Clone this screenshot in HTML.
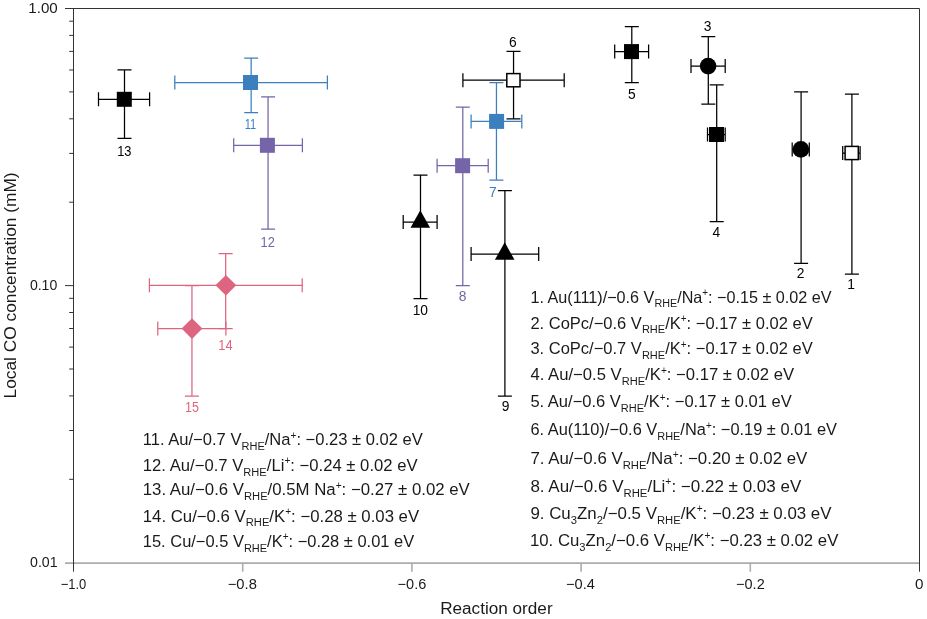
<!DOCTYPE html>
<html><head><meta charset="utf-8"><title>Reaction order</title>
<style>html,body{margin:0;padding:0;background:#fff}svg{display:block;will-change:transform}text{font-family:"Liberation Sans",sans-serif;fill:#1a1a1a}</style></head><body>
<svg xmlns="http://www.w3.org/2000/svg" width="927" height="619" viewBox="0 0 927 619">
<rect width="927" height="619" fill="#fff"/>
<g stroke="#adadad" stroke-width="1.6" fill="none">
<path d="M65 563.1H919.5"/>
<path d="M242.7 562.7V571.7"/>
<path d="M411.9 562.7V571.7"/>
<path d="M581.1 562.7V571.7"/>
<path d="M750.3 562.7V571.7"/>
</g>
<g stroke="#333" stroke-width="1" fill="none">
<path d="M65 8.5H919.5V571.7"/>
<path d="M73.5 8.5V571.7"/>
<path d="M69.2 202.2H73.5"/>
<path d="M69.2 153.4H73.5"/>
<path d="M69.2 118.8H73.5"/>
<path d="M69.2 91.9H73.5"/>
<path d="M69.2 70.0H73.5"/>
<path d="M69.2 51.4H73.5"/>
<path d="M69.2 35.4H73.5"/>
<path d="M69.2 21.2H73.5"/>
<path d="M69.2 479.3H73.5"/>
<path d="M69.2 430.5H73.5"/>
<path d="M69.2 395.9H73.5"/>
<path d="M69.2 369.0H73.5"/>
<path d="M69.2 347.1H73.5"/>
<path d="M69.2 328.5H73.5"/>
<path d="M69.2 312.5H73.5"/>
<path d="M69.2 298.3H73.5"/>
<path d="M65 285.6H73.5"/>
</g>
<text id="T1" transform="translate(28.26 13.1) scale(1.0445 1)" font-size="14.5">1.00</text>
<text id="T2" transform="translate(29.88 290.2) scale(0.9719 1)" font-size="14.5">0.10</text>
<text id="T3" transform="translate(30.00 567.3) scale(0.9786 1)" font-size="14.5">0.01</text>
<text id="X1" transform="translate(60.69 588.7) scale(0.8932 1)" font-size="14.5">−1.0</text>
<text id="X2" transform="translate(227.78 588.7) scale(1.0149 1)" font-size="14.5">−0.8</text>
<text id="X3" transform="translate(397.59 588.7) scale(1.0013 1)" font-size="14.5">−0.6</text>
<text id="X4" transform="translate(565.99 588.7) scale(1.0072 1)" font-size="14.5">−0.4</text>
<text id="X5" transform="translate(736.09 588.7) scale(1.0003 1)" font-size="14.5">−0.2</text>
<text id="X6" transform="translate(915.00 588.7) scale(1.0506 1)" font-size="14.5">0</text>
<text x="496.4" y="613.8" font-size="15.6" text-anchor="middle" textLength="112.4" lengthAdjust="spacingAndGlyphs">Reaction order</text>
<text transform="translate(15.7 285.4) rotate(-90)" font-size="16.3" text-anchor="middle" textLength="226" lengthAdjust="spacingAndGlyphs">Local CO concentration (mM)</text>
<g stroke="#000" stroke-width="1.25" fill="none">
<path d="M842.7 153.0H860.1M842.7 146.0V160.0M860.1 146.0V160.0"/>
<path d="M851.9 94.2V274.0M844.9 94.2H858.9M844.9 274.0H858.9"/>
</g>
<rect x="845.1" y="146.4" width="13.2" height="13.2" fill="#fff" stroke="#000" stroke-width="1.5"/>
<text transform="translate(851.2 289.1) scale(1 1)" font-size="13.8" text-anchor="middle" style="fill:#000">1</text>
<g stroke="#000" stroke-width="1.25" fill="none">
<path d="M792.2 149.4H809.3M792.2 142.4V156.4M809.3 142.4V156.4"/>
<path d="M801.1 91.9V263.4M794.1 91.9H808.1M794.1 263.4H808.1"/>
</g>
<circle cx="800.9" cy="149.4" r="8.3" fill="#000"/>
<text transform="translate(800.6 278.4) scale(1 1)" font-size="13.8" text-anchor="middle" style="fill:#000">2</text>
<g stroke="#000" stroke-width="1.25" fill="none">
<path d="M691.0 66.1H725.2M691.0 59.099999999999994V73.1M725.2 59.099999999999994V73.1"/>
<path d="M708.3 36.6V104.2M701.3 36.6H715.3M701.3 104.2H715.3"/>
</g>
<circle cx="708.1" cy="66.1" r="8.3" fill="#000"/>
<text transform="translate(707.5 30.5) scale(1 1)" font-size="13.8" text-anchor="middle" style="fill:#000">3</text>
<g stroke="#000" stroke-width="1.25" fill="none">
<path d="M707.5 134.5H725.2M707.5 127.5V141.5M725.2 127.5V141.5"/>
<path d="M716.7 84.9V221.7M709.7 84.9H723.7M709.7 221.7H723.7"/>
</g>
<rect x="709.0" y="127.0" width="15" height="15" fill="#000"/>
<text transform="translate(716.3 237.3) scale(1 1)" font-size="13.8" text-anchor="middle" style="fill:#000">4</text>
<g stroke="#000" stroke-width="1.25" fill="none">
<path d="M614.7 51.6H648.6M614.7 44.6V58.6M648.6 44.6V58.6"/>
<path d="M631.8 26.5V82.5M624.8 26.5H638.8M624.8 82.5H638.8"/>
</g>
<rect x="624.0" y="44.1" width="15" height="15" fill="#000"/>
<text transform="translate(631.8 98.5) scale(1 1)" font-size="13.8" text-anchor="middle" style="fill:#000">5</text>
<g stroke="#000" stroke-width="1.25" fill="none">
<path d="M462.9 80.2H564.2M462.9 73.2V87.2M564.2 73.2V87.2"/>
<path d="M513.55 51.4V118.9M506.5 51.4H520.5M506.5 118.9H520.5"/>
</g>
<rect x="506.8" y="73.6" width="13.2" height="13.2" fill="#fff" stroke="#000" stroke-width="1.5"/>
<text transform="translate(512.9 47.2) scale(1 1)" font-size="13.8" text-anchor="middle" style="fill:#000">6</text>
<g stroke="#3b7fbf" stroke-width="1.25" fill="none">
<path d="M471.1 121.4H521.8M471.1 114.4V128.4M521.8 114.4V128.4"/>
<path d="M496.45 82.5V180.1M489.4 82.5H503.4M489.4 180.1H503.4"/>
</g>
<rect x="489.1" y="113.9" width="15" height="15" fill="#3b7fbf"/>
<text transform="translate(492.9 197.0) scale(1 1)" font-size="13.8" text-anchor="middle" style="fill:#3b7fbf">7</text>
<g stroke="#7565a8" stroke-width="1.25" fill="none">
<path d="M437.1 165.7H488.2M437.1 158.7V172.7M488.2 158.7V172.7"/>
<path d="M462.8 107.1V285.6M455.8 107.1H469.8M455.8 285.6H469.8"/>
</g>
<rect x="455.1" y="158.2" width="15" height="15" fill="#7565a8"/>
<text transform="translate(462.6 301.0) scale(1 1)" font-size="13.8" text-anchor="middle" style="fill:#7565a8">8</text>
<g stroke="#000" stroke-width="1.25" fill="none">
<path d="M471.1 254.1H538.7M471.1 247.1V261.1M538.7 247.1V261.1"/>
<path d="M504.9 190.7V396.2M497.9 190.7H511.9M497.9 396.2H511.9"/>
</g>
<path d="M504.7 242.3L514.5 259.8H494.9Z" fill="#000"/>
<text transform="translate(505.5 410.9) scale(1 1)" font-size="13.8" text-anchor="middle" style="fill:#000">9</text>
<g stroke="#000" stroke-width="1.25" fill="none">
<path d="M403.2 222.0H437.1M403.2 215.0V229.0M437.1 215.0V229.0"/>
<path d="M420.5 175.2V298.5M413.5 175.2H427.5M413.5 298.5H427.5"/>
</g>
<path d="M420.3 210.2L430.1 227.7H410.5Z" fill="#000"/>
<text transform="translate(420.3 315.4) scale(1 1)" font-size="13.8" text-anchor="middle" style="fill:#000">10</text>
<g stroke="#3b7fbf" stroke-width="1.25" fill="none">
<path d="M174.8 82.5H327.4M174.8 75.5V89.5M327.4 75.5V89.5"/>
<path d="M251.15 58.0V112.7M244.2 58.0H258.1M244.2 112.7H258.1"/>
</g>
<rect x="243.0" y="75.0" width="15" height="15" fill="#3b7fbf"/>
<text transform="translate(250.5 129.0) scale(0.8 1)" font-size="13.8" text-anchor="middle" style="fill:#3b7fbf">11</text>
<g stroke="#7565a8" stroke-width="1.25" fill="none">
<path d="M233.7 145.3H302.4M233.7 138.3V152.3M302.4 138.3V152.3"/>
<path d="M268.05 96.8V229.2M261.1 96.8H275.1M261.1 229.2H275.1"/>
</g>
<rect x="259.9" y="137.8" width="15" height="15" fill="#7565a8"/>
<text transform="translate(267.7 247.3) scale(0.93 1)" font-size="13.8" text-anchor="middle" style="fill:#7565a8">12</text>
<g stroke="#000" stroke-width="1.25" fill="none">
<path d="M98.5 99.3H149.6M98.5 92.3V106.3M149.6 92.3V106.3"/>
<path d="M124.5 69.8V138.4M117.5 69.8H131.5M117.5 138.4H131.5"/>
</g>
<rect x="116.8" y="91.8" width="15" height="15" fill="#000"/>
<text transform="translate(124.3 156.1) scale(0.93 1)" font-size="13.8" text-anchor="middle" style="fill:#000">13</text>
<g stroke="#de6580" stroke-width="1.25" fill="none">
<path d="M149.4 285.3H302.2M149.4 278.3V292.3M302.2 278.3V292.3"/>
<path d="M225.7 253.6V328.6M218.7 253.6H232.7M218.7 328.6H232.7"/>
</g>
<path d="M225.9 275.0L236.3 285.3L225.9 295.6L215.5 285.3Z" fill="#de6580"/>
<text transform="translate(225.4 350.2) scale(0.93 1)" font-size="13.8" text-anchor="middle" style="fill:#de6580">14</text>
<g stroke="#de6580" stroke-width="1.25" fill="none">
<path d="M157.8 328.6H225.9M157.8 321.6V335.6M225.9 321.6V335.6"/>
<path d="M191.95 285.5V396.0M184.9 285.5H198.9M184.9 396.0H198.9"/>
</g>
<path d="M192.0 318.3L202.4 328.6L192.0 338.9L181.6 328.6Z" fill="#de6580"/>
<text transform="translate(192.0 412.0) scale(0.91 1)" font-size="13.8" text-anchor="middle" style="fill:#de6580">15</text>
<text id="L1" transform="translate(530.42 302.5) scale(0.9817 1)" font-size="16.5">1. Au(111)/−0.6 V<tspan font-size="11" dy="4.8">RHE</tspan><tspan dy="-4.8">/</tspan>Na<tspan font-size="10" dy="-6.5">+</tspan><tspan dy="6.5">: </tspan>−0.15 ± 0.02 eV</text>
<text id="L2" transform="translate(530.40 328.5) scale(1.0007 1)" font-size="16.5">2. CoPc/−0.6 V<tspan font-size="11" dy="4.8">RHE</tspan><tspan dy="-4.8">/</tspan>K<tspan font-size="10" dy="-6.5">+</tspan><tspan dy="6.5">: </tspan>−0.17 ± 0.02 eV</text>
<text id="L3" transform="translate(530.40 354.4) scale(1.0007 1)" font-size="16.5">3. CoPc/−0.7 V<tspan font-size="11" dy="4.8">RHE</tspan><tspan dy="-4.8">/</tspan>K<tspan font-size="10" dy="-6.5">+</tspan><tspan dy="6.5">: </tspan>−0.17 ± 0.02 eV</text>
<text id="L4" transform="translate(530.40 380.4) scale(1.0107 1)" font-size="16.5">4. Au/−0.5 V<tspan font-size="11" dy="4.8">RHE</tspan><tspan dy="-4.8">/</tspan>K<tspan font-size="10" dy="-6.5">+</tspan><tspan dy="6.5">: </tspan>−0.17 ± 0.02 eV</text>
<text id="L5" transform="translate(530.40 407.3) scale(1.0015 1)" font-size="16.5">5. Au/−0.6 V<tspan font-size="11" dy="4.8">RHE</tspan><tspan dy="-4.8">/</tspan>K<tspan font-size="10" dy="-6.5">+</tspan><tspan dy="6.5">: </tspan>−0.17 ± 0.01 eV</text>
<text id="L6" transform="translate(530.40 435.2) scale(0.9948 1)" font-size="16.5">6. Au(110)/−0.6 V<tspan font-size="11" dy="4.8">RHE</tspan><tspan dy="-4.8">/</tspan>Na<tspan font-size="10" dy="-6.5">+</tspan><tspan dy="6.5">: </tspan>−0.19 ± 0.01 eV</text>
<text id="L7" transform="translate(530.40 464.2) scale(1.0221 1)" font-size="16.5">7. Au/−0.6 V<tspan font-size="11" dy="4.8">RHE</tspan><tspan dy="-4.8">/</tspan>Na<tspan font-size="10" dy="-6.5">+</tspan><tspan dy="6.5">: </tspan>−0.20 ± 0.02 eV</text>
<text id="L8" transform="translate(530.39 491.7) scale(1.0304 1)" font-size="16.5">8. Au/−0.6 V<tspan font-size="11" dy="4.8">RHE</tspan><tspan dy="-4.8">/</tspan>Li<tspan font-size="10" dy="-6.5">+</tspan><tspan dy="6.5">: </tspan>−0.22 ± 0.03 eV</text>
<text id="L9" transform="translate(530.40 518.9) scale(1.0231 1)" font-size="16.5">9. Cu<tspan font-size="11" dy="4.8">3</tspan><tspan dy="-4.8">Zn</tspan><tspan font-size="11" dy="4.8">2</tspan><tspan dy="-4.8">/−0.5 V</tspan><tspan font-size="11" dy="4.8">RHE</tspan><tspan dy="-4.8">/</tspan>K<tspan font-size="10" dy="-6.5">+</tspan><tspan dy="6.5">: </tspan>−0.23 ± 0.03 eV</text>
<text id="L10" transform="translate(529.98 545.9) scale(1.0165 1)" font-size="16.5">10. Cu<tspan font-size="11" dy="4.8">3</tspan><tspan dy="-4.8">Zn</tspan><tspan font-size="11" dy="4.8">2</tspan><tspan dy="-4.8">/−0.6 V</tspan><tspan font-size="11" dy="4.8">RHE</tspan><tspan dy="-4.8">/</tspan>K<tspan font-size="10" dy="-6.5">+</tspan><tspan dy="6.5">: </tspan>−0.23 ± 0.02 eV</text>
<text id="L11" transform="translate(142.80 445.0) scale(1.0043 1)" font-size="16.5">11. Au/−0.7 V<tspan font-size="11" dy="4.8">RHE</tspan><tspan dy="-4.8">/</tspan>Na<tspan font-size="10" dy="-6.5">+</tspan><tspan dy="6.5">: </tspan>−0.23 ± 0.02 eV</text>
<text id="L12" transform="translate(142.80 470.7) scale(1.0103 1)" font-size="16.5">12. Au/−0.7 V<tspan font-size="11" dy="4.8">RHE</tspan><tspan dy="-4.8">/</tspan>Li<tspan font-size="10" dy="-6.5">+</tspan><tspan dy="6.5">: </tspan>−0.24 ± 0.02 eV</text>
<text id="L13" transform="translate(142.79 495.0) scale(1.0181 1)" font-size="16.5">13. Au/−0.6 V<tspan font-size="11" dy="4.8">RHE</tspan><tspan dy="-4.8">/</tspan>0.5M Na<tspan font-size="10" dy="-6.5">+</tspan><tspan dy="6.5">: </tspan>−0.27 ± 0.02 eV</text>
<text id="L14" transform="translate(142.79 521.5) scale(1.0162 1)" font-size="16.5">14. Cu/−0.6 V<tspan font-size="11" dy="4.8">RHE</tspan><tspan dy="-4.8">/</tspan>K<tspan font-size="10" dy="-6.5">+</tspan><tspan dy="6.5">: </tspan>−0.28 ± 0.03 eV</text>
<text id="L15" transform="translate(142.80 546.9) scale(0.9985 1)" font-size="16.5">15. Cu/−0.5 V<tspan font-size="11" dy="4.8">RHE</tspan><tspan dy="-4.8">/</tspan>K<tspan font-size="10" dy="-6.5">+</tspan><tspan dy="6.5">: </tspan>−0.28 ± 0.01 eV</text>
</svg></body></html>
